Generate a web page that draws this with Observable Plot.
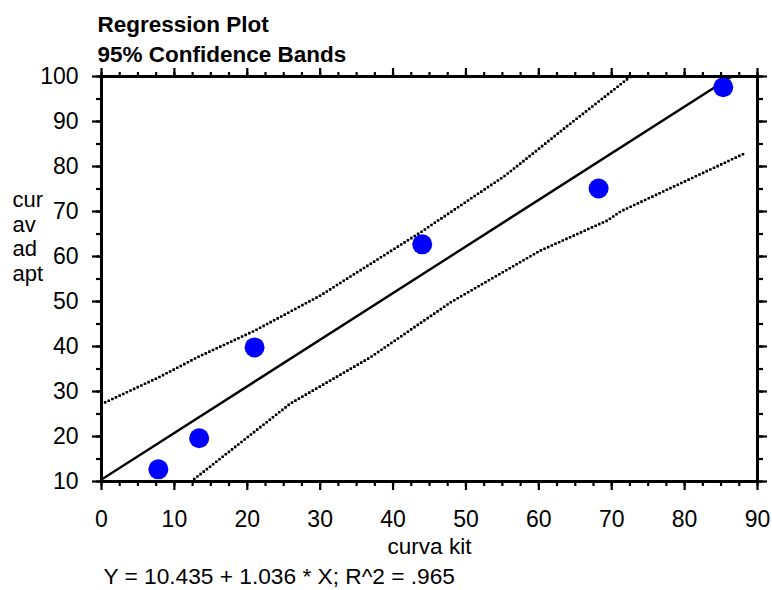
<!DOCTYPE html>
<html>
<head>
<meta charset="utf-8">
<script src="https://cdn.jsdelivr.net/npm/d3@7"></script>
<script src="https://cdn.jsdelivr.net/npm/@observablehq/plot@0.6"></script>
<style>
  body { margin: 0; background: #fff; }
</style>
</head>
<body>
<div id="chart"></div>
<script>
// Observed points
const kitX = [7.8, 13.4, 21.0, 44.0, 68.2, 85.3];
const adaptY = [12.7, 19.6, 39.8, 62.7, 75.1, 97.6];

// Fitted line: Y = 10.435 + 1.036 * X
const intercept = 10.435;
const slope = 1.036;
const fitX = [0, 90];

// 95% confidence bands
const upperX = [0, 7.8, 13.4, 21.0, 30.0, 43.8, 55.4, 64.3, 72.6];
const upperY = [27.2, 33.1, 37.8, 43.5, 51.3, 65.4, 78.0, 89.5, 100.0];
const lowerX = [12.3, 25.9, 36.9, 47.9, 60.2, 69.4, 71.2, 88.1];
const lowerY = [10.0, 27.3, 37.6, 49.8, 61.3, 68.0, 70.0, 82.8];

// Ticks
const xMajor = [0, 10, 20, 30, 40, 50, 60, 70, 80, 90];
const xMinor = [0, 2.5, 5, 7.5, 10, 12.5, 15, 17.5, 20, 22.5, 25, 27.5, 30, 32.5, 35, 37.5, 40, 42.5, 45, 47.5, 50, 52.5, 55, 57.5, 60, 62.5, 65, 67.5, 70, 72.5, 75, 77.5, 80, 82.5, 85, 87.5, 90];
const yMajor = [10, 20, 30, 40, 50, 60, 70, 80, 90, 100];
const yMinor = [10, 15, 20, 25, 30, 35, 40, 45, 50, 55, 60, 65, 70, 75, 80, 85, 90, 95, 100];

const titleLines = ["Regression Plot", "95% Confidence Bands"];
const xLabel = "curva kit";
const yLabel = "cur\nav\nad\napt";
const equation = "Y = 10.435 + 1.036 * X; R^2 = .965";

const points = kitX.map((x, i) => ({x, y: adaptY[i]}));
const fit = fitX.map(x => ({x, y: intercept + slope * x}));
const upper = upperX.map((x, i) => ({x, y: upperY[i]}));
const lower = lowerX.map((x, i) => ({x, y: lowerY[i]}));

const FONT = "Liberation Sans, Arial, sans-serif";
const dotted = {stroke: "#000", strokeWidth: 2.6, strokeDasharray: "0 4", strokeLinecap: "square", clip: true};

const chart = Plot.plot({
  width: 772,
  height: 590,
  marginLeft: 101,
  marginRight: 15,
  marginTop: 76,
  marginBottom: 109,
  style: {fontFamily: FONT, fontSize: "22px", color: "#000", background: "#fff"},
  x: {domain: [0, 90]},
  y: {domain: [10, 100]},
  marks: [
    Plot.line(upper, {x: "x", y: "y", ...dotted}),
    Plot.line(lower, {x: "x", y: "y", ...dotted}),
    Plot.line(fit, {x: "x", y: "y", stroke: "#000", strokeWidth: 2.4, clip: true}),
    Plot.dot(points, {x: "x", y: "y", r: 10, fill: "#0000ff", stroke: "none"}),
    Plot.frame({stroke: "#000", strokeWidth: 3}),
    // bottom
    Plot.axisX({ticks: xMinor, anchor: "bottom", tickSize: 5, strokeWidth: 2.2, tickFormat: () => "", label: null}),
    Plot.axisX({ticks: xMajor, anchor: "bottom", tickSize: 9, tickPadding: 20, strokeWidth: 2.2, fontSize: 23, label: null}),
    // top
    Plot.axisX({ticks: xMinor, anchor: "top", tickSize: 5, strokeWidth: 2.2, tickFormat: () => "", label: null}),
    Plot.axisX({ticks: xMajor, anchor: "top", tickSize: 9, strokeWidth: 2.2, tickFormat: () => "", label: null}),
    // left
    Plot.axisY({ticks: yMinor, anchor: "left", tickSize: 5, strokeWidth: 2.2, tickFormat: () => "", label: null}),
    Plot.axisY({ticks: yMajor, anchor: "left", tickSize: 9, tickPadding: 14, strokeWidth: 2.2, fontSize: 23, label: null}),
    // right
    Plot.axisY({ticks: yMinor, anchor: "right", tickSize: 5, strokeWidth: 2.2, tickFormat: () => "", label: null}),
    Plot.axisY({ticks: yMajor, anchor: "right", tickSize: 9, strokeWidth: 2.2, tickFormat: () => "", label: null}),
    // texts
    Plot.text([titleLines[0]], {text: d => d, frameAnchor: "top-left", dx: -4, dy: -45, lineAnchor: "bottom", textAnchor: "start", fontWeight: "bold", fontSize: 22.5, fill: "#000"}),
    Plot.text([titleLines[1]], {text: d => d, frameAnchor: "top-left", dx: -4, dy: -15, lineAnchor: "bottom", textAnchor: "start", fontWeight: "bold", fontSize: 22.5, fill: "#000"}),
    Plot.text([yLabel], {text: d => d, frameAnchor: "top-left", dx: -89, dy: 113, lineAnchor: "top", textAnchor: "start", lineHeight: 1.12, fontSize: 22, fill: "#000"}),
    Plot.text([xLabel], {text: d => d, frameAnchor: "bottom", dy: 72, lineAnchor: "bottom", textAnchor: "middle", fontSize: 22.5, fill: "#000"}),
    Plot.text([equation], {text: d => d, frameAnchor: "bottom-left", dx: 2, dy: 102, lineAnchor: "bottom", textAnchor: "start", fontSize: 22.7, fill: "#000"})
  ]
});
document.getElementById("chart").appendChild(chart);
</script>
</body>
</html>
